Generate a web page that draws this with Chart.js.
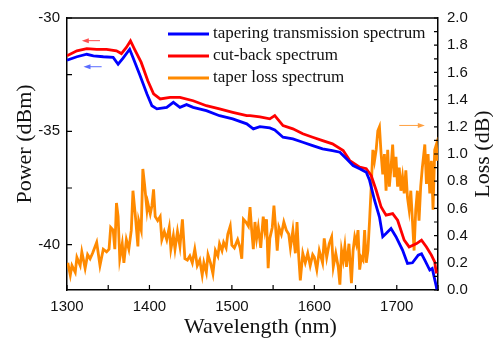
<!DOCTYPE html>
<html>
<head>
<meta charset="utf-8">
<script src="https://cdn.jsdelivr.net/npm/chart.js@4.4.0/dist/chart.umd.min.js"></script>
<style>
  html, body { margin: 0; padding: 0; background: #fff; }
  canvas { display: block; }
</style>
</head>
<body>
<canvas id="chart" width="493" height="341"></canvas>
<script>
// Tapering transmission spectrum (left axis, dBm)
const blueWl = [1300,1312,1324,1332,1344,1356,1362,1368,1376,1380,1388,1397,1403,1409,1421,1429,1437,1445,1453,1469,
  1485,1501,1518,1526,1534,1546,1552,1562,1574,1586,1598,1610,1622,1631,1639,1647,1655,1663,1667,1673,
  1679,1683,1687,1693,1699,1707,1713,1719,1726,1730,1734,1740,1743,1748,1749];
const bluePow = [-31.86,-31.71,-31.60,-31.67,-31.71,-31.74,-32.04,-31.77,-31.38,-31.74,-32.48,-33.35,-33.87,-34.01,-33.94,-33.72,-33.94,-33.82,-33.94,-34.09,
  -34.31,-34.45,-34.67,-34.89,-34.79,-34.85,-34.94,-35.26,-35.33,-35.48,-35.63,-35.77,-35.85,-35.92,-36.21,-36.51,-36.65,-36.80,-37.16,-38.04,
  -38.78,-39.65,-39.51,-39.29,-39.65,-40.24,-40.83,-40.80,-40.46,-40.40,-40.68,-41.12,-41.05,-41.85,-42.1];

// Cut-back spectrum (left axis, dBm)
const redWl = [1300,1312,1324,1336,1348,1360,1366,1372,1377,1382,1390,1398,1405,1413,1425,1437,1453,1469,1485,1501,
  1518,1522,1534,1546,1552,1562,1574,1586,1598,1610,1622,1635,1643,1655,1663,1669,1675,1681,1687,1695,
  1701,1709,1715,1724,1730,1736,1742,1746,1748];
const redPow = [-31.67,-31.45,-31.35,-31.38,-31.38,-31.45,-31.57,-31.30,-31.01,-31.38,-31.96,-32.77,-33.35,-33.57,-33.50,-33.50,-33.65,-33.87,-34.01,-34.16,
  -34.31,-34.31,-34.36,-34.45,-34.31,-34.75,-34.89,-35.11,-35.26,-35.41,-35.55,-35.85,-36.29,-36.58,-36.65,-36.95,-37.60,-38.34,-38.70,-38.63,
  -38.92,-39.80,-40.10,-39.95,-39.80,-40.10,-40.46,-40.76,-41.27];

// Taper loss spectrum (right axis, dB)
const lossWl = [1301,1304,1306,1310,1312,1316,1318,1322,1325,1328,1331,1336,1340,1344,1348,1351,1353,1356,1358,1360,
  1362,1364,1367,1369,1372,1375,1378,1380,1383,1386,1387,1390,1392,1394,1397,1398,1401,1403,1405,1407,
  1410,1413,1415,1418,1421,1424,1426,1429,1431,1434,1437,1440,1443,1446,1449,1452,1455,1458,1461,1464,
  1466,1469,1471,1474,1477,1480,1483,1485,1488,1490,1493,1495,1498,1500,1503,1507,1510,1512,1514,1517,
  1520,1522,1524,1526,1528,1530,1532,1535,1538,1540,1542,1544,1546,1549,1551,1553,1555,1557,1560,1563,
  1566,1569,1571,1574,1577,1579,1581,1583,1586,1589,1592,1595,1598,1600,1603,1606,1610,1612,1615,1618,
  1621,1623,1626,1629,1631,1633,1635,1637,1639,1642,1645,1647,1649,1651,1653,1655,1657,1659,1661,1663,
  1665,1667,1669,1671,1673,1675,1677,1679,1681,1683,1685,1687,1689,1691,1693,1695,1697,1699,1701,1703,
  1705,1707,1709,1711,1713,1715,1717,1719,1721,1723,1725,1727,1729,1731,1734,1736,1738,1740,1742,1744,
  1746,1748,1749];
const lossDb = [0.20,0.11,0.18,0.13,0.24,0.18,0.28,0.16,0.26,0.23,0.27,0.35,0.18,0.30,0.28,0.30,0.46,0.44,0.30,0.64,
  0.54,0.23,0.34,0.20,0.37,0.30,0.44,0.73,0.54,0.32,0.51,0.44,0.89,0.78,0.59,0.64,0.56,0.62,0.74,0.54,
  0.51,0.54,0.37,0.43,0.37,0.46,0.30,0.40,0.30,0.43,0.32,0.52,0.23,0.22,0.25,0.20,0.30,0.18,0.22,0.11,
  0.20,0.13,0.26,0.20,0.12,0.29,0.25,0.34,0.29,0.35,0.31,0.41,0.47,0.33,0.31,0.37,0.31,0.23,0.52,0.50,
  0.47,0.61,0.44,0.30,0.50,0.38,0.46,0.31,0.54,0.44,0.52,0.16,0.38,0.46,0.62,0.46,0.29,0.46,0.41,0.50,
  0.44,0.41,0.31,0.44,0.27,0.50,0.25,0.07,0.27,0.20,0.27,0.18,0.26,0.24,0.15,0.29,0.20,0.38,0.24,0.34,
  0.39,0.17,0.27,0.17,0.04,0.29,0.22,0.32,0.17,0.34,0.05,0.29,0.39,0.34,0.44,0.15,0.24,0.22,0.44,0.20,
  0.29,0.51,0.76,1.03,0.95,1.03,1.17,1.20,1.00,0.85,1.00,0.73,1.03,0.76,0.90,1.07,0.83,0.98,0.76,0.90,
  0.73,0.83,0.71,0.88,0.68,0.59,0.73,0.51,0.29,0.59,0.73,0.51,0.76,0.90,1.07,0.78,1.00,0.71,0.95,0.59,
  1.03,1.07,0.95];

// Axis ranges / ticks
const xTickLabels = [1300, 1400, 1500, 1600, 1700];
const powerTickLabels = [-30, -35, -40];
const lossTickLabels = [0.0, 0.2, 0.4, 0.6, 0.8, 1.0, 1.2, 1.4, 1.6, 1.8, 2.0];

const seriesNames = ['tapering transmission spectrum', 'cut-back spectrum', 'taper loss spectrum'];
const seriesColors = ['#0000ff', '#ff0000', '#ff8a00'];

const SERIF = "'Liberation Serif', 'Times New Roman', serif";
const SANS = "'Liberation Sans', Arial, sans-serif";

function toPoints(xs, ys) {
    const n = Math.min(xs.length, ys.length);
    const out = [];
    for (let i = 0; i < n; i++) out.push({ x: xs[i], y: ys[i] });
    return out;
}

function near(v, list) {
    return list.some(t => Math.abs(t - v) < 1e-6);
}

// Frame, inward ticks, titles, legend and arrows
const decorPlugin = {
    id: 'decor',
    afterDraw(chart) {
        const { ctx, chartArea: a, scales } = chart;
        ctx.save();
        ctx.strokeStyle = '#000';
        ctx.lineWidth = 1.5;
        ctx.beginPath();
        ctx.moveTo(a.left, a.top);
        ctx.lineTo(a.right, a.top);
        ctx.stroke();

        // inward tick marks
        ctx.lineWidth = 1.2;
        ctx.beginPath();
        scales.x.ticks.forEach(t => {
            if (Math.abs(t.value % 50) > 1e-6) return;
            const px = scales.x.getPixelForValue(t.value);
            ctx.moveTo(px, a.bottom);
            ctx.lineTo(px, a.bottom - 5);
        });
        scales.y.ticks.forEach(t => {
            if (Math.abs((t.value / 2.5) - Math.round(t.value / 2.5)) > 1e-6) return;
            const py = scales.y.getPixelForValue(t.value);
            ctx.moveTo(a.left, py);
            ctx.lineTo(a.left + 5, py);
        });
        scales.y2.ticks.forEach(t => {
            const py = scales.y2.getPixelForValue(t.value);
            ctx.moveTo(a.right, py);
            ctx.lineTo(a.right - 4, py);
        });
        ctx.stroke();

        // axis titles
        ctx.fillStyle = '#111';
        ctx.font = '22px ' + SERIF;
        ctx.textAlign = 'center';
        ctx.textBaseline = 'middle';
        ctx.fillText('Wavelength (nm)', (a.left + a.right) / 2 + 8, 327);
        ctx.save();
        ctx.translate(25, 144);
        ctx.rotate(-Math.PI / 2);
        ctx.fillText('Power (dBm)', 0, 0);
        ctx.restore();
        ctx.save();
        ctx.translate(483, 154);
        ctx.rotate(-Math.PI / 2);
        ctx.fillText('Loss (dB)', 0, 0);
        ctx.restore();

        // legend
        ctx.font = '17px ' + SERIF;
        ctx.textAlign = 'left';
        ctx.lineWidth = 3;
        seriesNames.forEach((name, i) => {
            const y = 34 + i * 22;
            ctx.strokeStyle = seriesColors[i];
            ctx.beginPath();
            ctx.moveTo(168, y);
            ctx.lineTo(209, y);
            ctx.stroke();
            ctx.fillStyle = '#111';
            ctx.fillText(name, 213, y);
        });

        // direction arrows (placed in data coordinates)
        const arrow = (scaleY, x1, x2, yv, color) => {
            const p1 = scales.x.getPixelForValue(x1);
            const p2 = scales.x.getPixelForValue(x2);
            const py = scales[scaleY].getPixelForValue(yv);
            const dir = Math.sign(p2 - p1);
            ctx.strokeStyle = color;
            ctx.fillStyle = color;
            ctx.lineWidth = 1;
            ctx.beginPath();
            ctx.moveTo(p1, py);
            ctx.lineTo(p2 - dir * 5, py);
            ctx.stroke();
            ctx.beginPath();
            ctx.moveTo(p2, py);
            ctx.lineTo(p2 - dir * 7, py - 2.5);
            ctx.lineTo(p2 - dir * 7, py + 2.5);
            ctx.closePath();
            ctx.fill();
        };
        arrow('y', 1340, 1318, -31.0, '#ff5050');
        arrow('y', 1342, 1320, -32.15, '#5a6cff');
        arrow('y2', 1703, 1734, 1.21, '#ffa040');
        ctx.restore();
    }
};

const ctx = document.getElementById('chart').getContext('2d');
new Chart(ctx, {
    type: 'line',
    data: {
        datasets: [
            {
                label: seriesNames[0],
                data: toPoints(blueWl, bluePow),
                yAxisID: 'y',
                borderColor: seriesColors[0],
                borderWidth: 2.8,
                pointRadius: 0,
                tension: 0
            },
            {
                label: seriesNames[1],
                data: toPoints(redWl, redPow),
                yAxisID: 'y',
                borderColor: seriesColors[1],
                borderWidth: 2.8,
                pointRadius: 0,
                tension: 0
            },
            {
                label: seriesNames[2],
                data: toPoints(lossWl, lossDb),
                yAxisID: 'y2',
                borderColor: seriesColors[2],
                borderWidth: 2.8,
                pointRadius: 0,
                tension: 0
            }
        ]
    },
    options: {
        responsive: false,
        devicePixelRatio: 1,
        animation: false,
        layout: { padding: { top: 17, left: 0, right: 0, bottom: 0 } },
        plugins: {
            legend: { display: false },
            tooltip: { enabled: false }
        },
        scales: {
            x: {
                type: 'linear',
                min: 1300,
                max: 1750,
                grid: { display: false, drawTicks: false },
                border: { display: true, color: '#000', width: 1.5 },
                ticks: {
                    stepSize: 50,
                    autoSkip: false,
                    maxRotation: 0,
                    padding: 8,
                    color: '#111',
                    font: { family: SANS, size: 15 },
                    callback: v => near(v, xTickLabels) ? String(v) : ''
                },
                afterFit(scale) { scale.height = 51; }
            },
            y: {
                type: 'linear',
                position: 'left',
                min: -42,
                max: -30,
                grid: { display: false, drawTicks: false },
                border: { display: true, color: '#000', width: 1.5 },
                ticks: {
                    stepSize: 2.5,
                    autoSkip: false,
                    padding: 7,
                    color: '#111',
                    font: { family: SANS, size: 15 },
                    callback: v => near(v, powerTickLabels) ? String(v) : ''
                },
                afterFit(scale) { scale.width = 67; }
            },
            y2: {
                type: 'linear',
                position: 'right',
                min: 0,
                max: 2,
                grid: { display: false, drawTicks: false },
                border: { display: true, color: '#000', width: 1.5 },
                ticks: {
                    stepSize: 0.1,
                    autoSkip: false,
                    padding: 9,
                    color: '#111',
                    font: { family: SANS, size: 15 },
                    callback: v => near(v, lossTickLabels) ? v.toFixed(1) : ''
                },
                afterFit(scale) { scale.width = 55; }
            }
        }
    },
    plugins: [decorPlugin]
});
</script>
</body>
</html>
